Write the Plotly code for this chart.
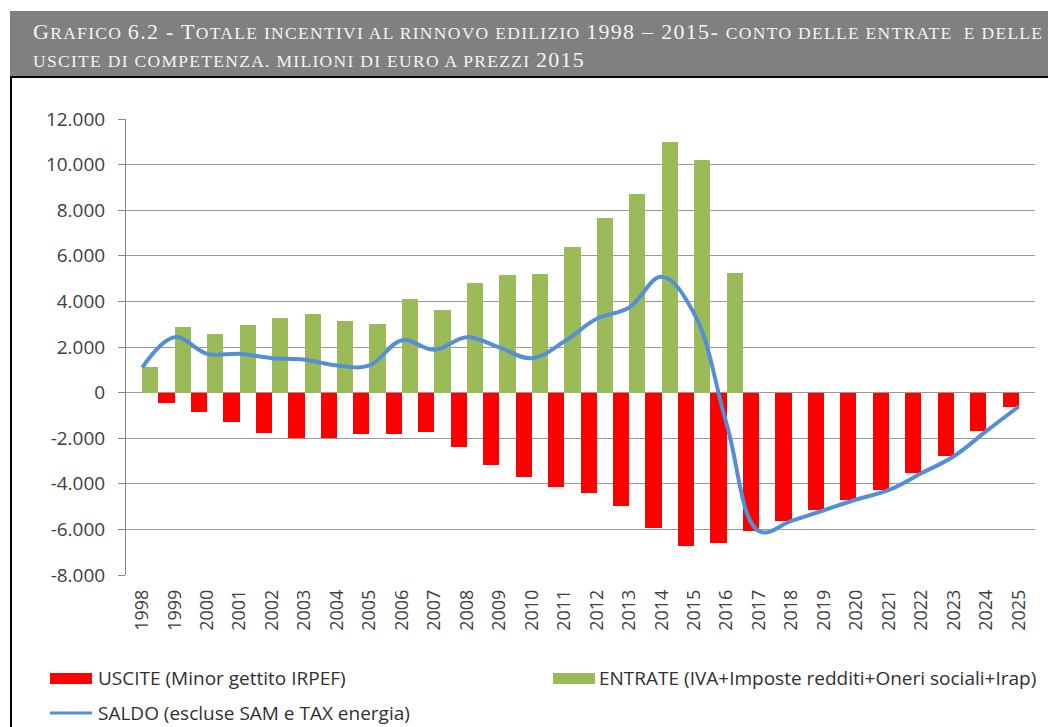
import plotly.graph_objects as go

years = [str(y) for y in range(1998, 2026)]

# USCITE (Minor gettito IRPEF), milioni di euro
uscite = [0, -440, -860, -1270, -1780, -2000, -1970, -1820, -1820, -1740,
          -2380, -3170, -3680, -4150, -4410, -4970, -5930, -6720, -6600, -6080,
          -5630, -5160, -4690, -4270, -3540, -2790, -1690, -610]

# ENTRATE (IVA+Imposte redditi+Oneri sociali+Irap)
entrate = [1110, 2870, 2560, 2970, 3290, 3440, 3160, 3010, 4120, 3610,
           4810, 5150, 5190, 6390, 7650, 8700, 11010, 10190, 5240, 0,
           0, 0, 0, 0, 0, 0, 0, 0]

# SALDO (escluse SAM e TAX energia)
saldo = [1100, 2430, 1700, 1700, 1510, 1440, 1190, 1190, 2300, 1880,
         2430, 1980, 1510, 2240, 3240, 3730, 5080, 3470, -1370, -6080,
         -5630, -5160, -4690, -4270, -3540, -2790, -1690, -610]

y_tickvals = [-8000, -6000, -4000, -2000, 0, 2000, 4000, 6000, 8000, 10000, 12000]
y_ticktext = ["-8.000", "-6.000", "-4.000", "-2.000", "0", "2.000", "4.000",
              "6.000", "8.000", "10.000", "12.000"]

RED = "#FF0000"
GREEN = "#9BBB59"
BLUE = "#558ED5"
TEXT = "#404040"
GRID = "#999999"
SANS = "Open Sans"

# the page body has an 8px margin, so the figure starts at (8, 8) on screen;
# positions below are screen pixels and get shifted back by OFF
OFF = 8
W_PX, H_PX = 1056 - OFF, 727 - OFF
L, R, T, B = 126 - OFF, 1035 - OFF, 119 - OFF, 575 - OFF


def px(x):
    return (x - OFF - L) / (R - L)


def py(y):
    return (B - (y - OFF)) / (B - T)


def big(s):
    return f"<span style='font-size:22px;letter-spacing:1.3px'>{s}</span>"


def sm(s):
    return f"<span style='font-size:17.5px;letter-spacing:1.3px'>{s}</span>"


NB = "\u00a0"
title_1 = (big("G") + sm("RAFICO" + NB) + big("6.2 - T")
           + sm("OTALE INCENTIVI AL RINNOVO EDILIZIO" + NB)
           + big("1998 – 2015-" + NB) + sm("CONTO DELLE ENTRATE" + NB + NB + "E DELLE"))
title_2 = sm("USCITE DI COMPETENZA. MILIONI DI EURO A PREZZI" + NB) + big("2015")

fig = go.Figure()
fig.add_trace(go.Bar(x=years, y=uscite, name="USCITE (Minor gettito IRPEF)",
                     marker={"color": RED, "line": {"width": 0}}))
fig.add_trace(go.Bar(x=years, y=entrate,
                     name="ENTRATE (IVA+Imposte redditi+Oneri sociali+Irap)",
                     marker={"color": GREEN, "line": {"width": 0}}))
fig.add_trace(go.Scatter(x=years, y=saldo, mode="lines",
                         name="SALDO (escluse SAM e TAX energia)",
                         line={"color": BLUE, "width": 4, "shape": "spline",
                               "smoothing": 1.1}))

shapes = [
    # grey header band
    dict(type="rect", xref="paper", yref="paper", x0=px(10), x1=px(1060),
         y0=py(76), y1=py(11), fillcolor="#808080", line={"width": 0}, layer="below"),
    # black frame
    dict(type="line", xref="paper", yref="paper", x0=px(10), x1=px(1060),
         y0=py(77), y1=py(77), line={"color": "black", "width": 2}),
    dict(type="line", xref="paper", yref="paper", x0=px(11), x1=px(11),
         y0=py(77), y1=py(740), line={"color": "black", "width": 2}),
    # legend swatches
    dict(type="rect", xref="paper", yref="paper", x0=px(50), x1=px(92),
         y0=py(684), y1=py(673), fillcolor=RED, line={"width": 0}),
    dict(type="rect", xref="paper", yref="paper", x0=px(553), x1=px(595),
         y0=py(684), y1=py(673), fillcolor=GREEN, line={"width": 0}),
    dict(type="line", xref="paper", yref="paper", x0=px(50), x1=px(92),
         y0=py(713), y1=py(713), line={"color": BLUE, "width": 3}),
]

legend_font = {"family": SANS, "size": 19, "color": "#303030"}
annotations = [
    dict(text=title_1, xref="paper", yref="paper", x=px(31), y=py(31),
         xanchor="left", yanchor="middle", showarrow=False,
         font={"family": "Liberation Serif", "color": "#f4f4f4"}),
    dict(text=title_2, xref="paper", yref="paper", x=px(31), y=py(59),
         xanchor="left", yanchor="middle", showarrow=False,
         font={"family": "Liberation Serif", "color": "#f4f4f4"}),
    dict(text="USCITE (Minor gettito IRPEF)", xref="paper", yref="paper",
         x=px(96), y=py(678), xanchor="left", yanchor="middle",
         showarrow=False, font=legend_font),
    dict(text="ENTRATE (IVA+Imposte redditi+Oneri sociali+Irap)", xref="paper",
         yref="paper", x=px(597), y=py(678), xanchor="left", yanchor="middle",
         showarrow=False, font=legend_font),
    dict(text="SALDO (escluse SAM e TAX energia)", xref="paper", yref="paper",
         x=px(96), y=py(713), xanchor="left", yanchor="middle",
         showarrow=False, font=legend_font),
]

fig.update_layout(
    width=W_PX,
    height=H_PX,
    margin={"l": L, "r": W_PX - R, "t": T, "b": H_PX - B, "pad": 0},
    paper_bgcolor="white",
    plot_bgcolor="white",
    barmode="group",
    bargap=0,
    bargroupgap=0,
    showlegend=False,
    shapes=shapes,
    annotations=annotations,
    font={"family": SANS, "color": TEXT},
)
fig.update_xaxes(
    type="category",
    range=[-0.5, len(years) - 0.5],
    tickangle=-90,
    tickfont={"family": SANS, "size": 18, "color": TEXT},
    showgrid=False,
    showline=False,
    ticks="",
    ticklabelstandoff=10,
)
fig.update_yaxes(
    range=[-8000, 12000],
    tickvals=y_tickvals,
    ticktext=y_ticktext,
    tickfont={"family": SANS, "size": 19, "color": TEXT},
    showgrid=True,
    gridcolor=GRID,
    gridwidth=1,
    zeroline=True,
    zerolinecolor=GRID,
    zerolinewidth=1,
    showline=True,
    linecolor="#868686",
    linewidth=1,
    ticks="outside",
    ticklen=7,
    tickcolor="#868686",
    ticklabelstandoff=9,
)

fig.write_html("out.html")
